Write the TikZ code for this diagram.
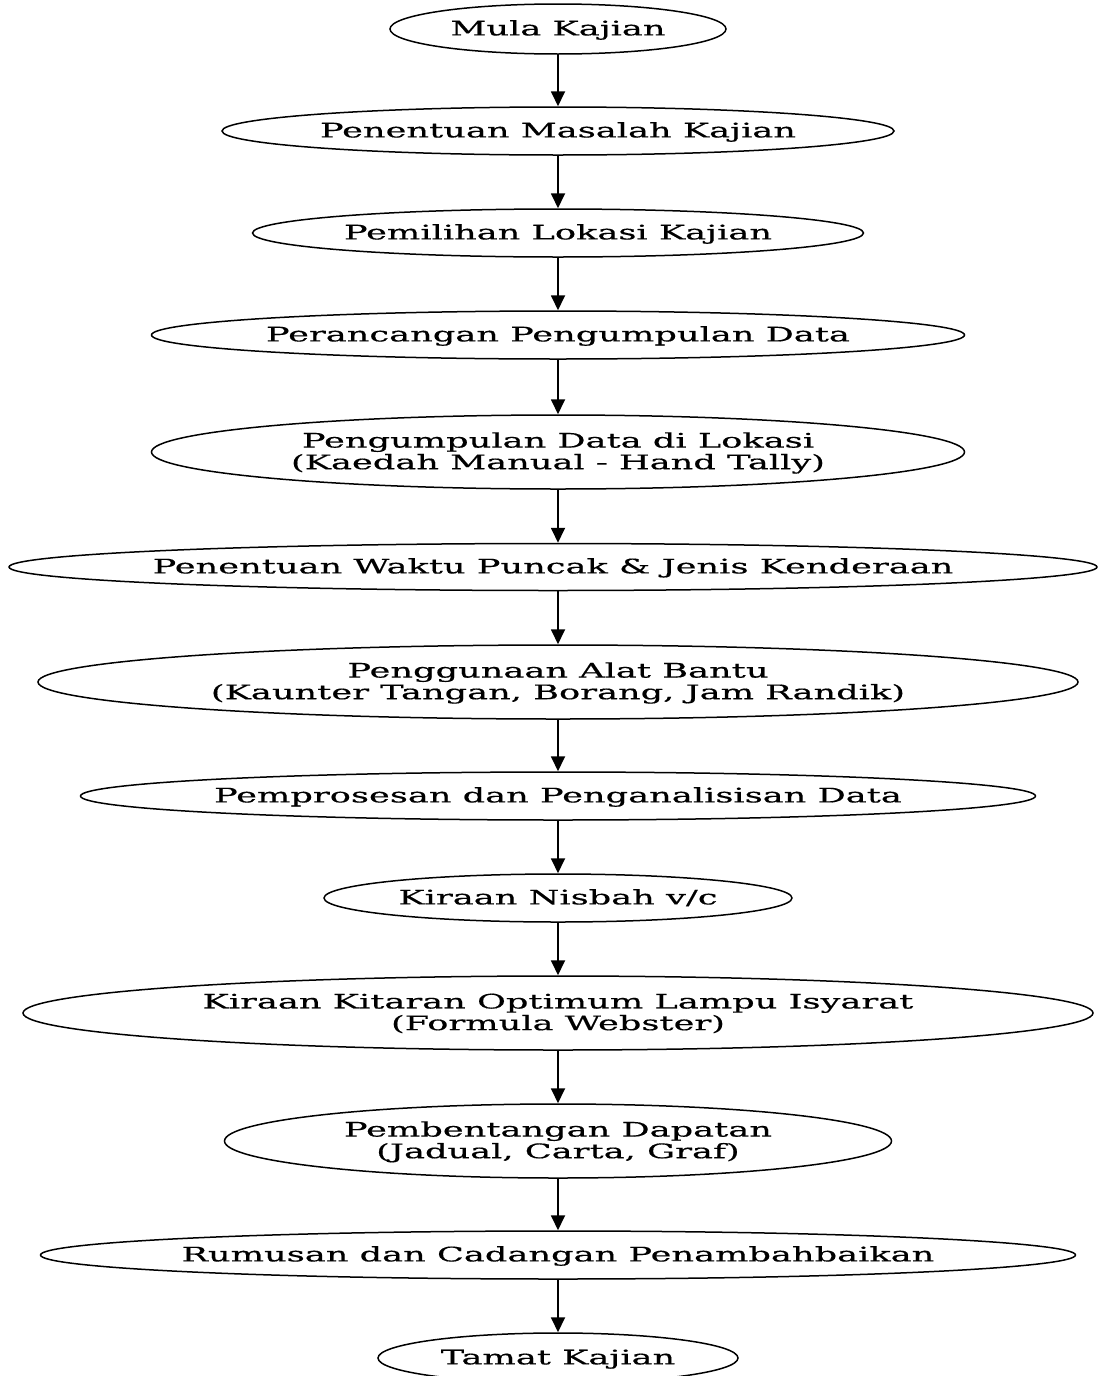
\documentclass[tikz,border=0pt]{standalone}
\usepackage{fontspec}
\newfontfamily\lblfont[FakeStretch=1.76,FakeBold=0.5]{DejaVu Serif}
\usetikzlibrary{shapes.geometric,arrows.meta}
\newcommand\lbl[1]{\raisebox{-2pt}[\height][\depth]{\makebox[0pt]{\begin{tabular}{@{}c@{}}#1\end{tabular}}}}
\begin{document}
\begin{tikzpicture}[x=1pt,y=-1pt,
  box/.style={ellipse,draw,line width=1.5pt,inner sep=0pt,
    font=\lblfont\fontsize{20}{21.5}\selectfont},
  flow/.style={line width=1.8pt,-{Triangle[length=15pt,width=14pt]}}]
\useasboundingbox (0,0) rectangle (1099,1376);
\node[box,minimum width=336,minimum height=50] (n1) at (558,29) {\lbl{Mula Kajian}};
\node[box,minimum width=672,minimum height=48] (n2) at (558,131) {\lbl{Penentuan Masalah Kajian}};
\node[box,minimum width=611,minimum height=48] (n3) at (558,233) {\lbl{Pemilihan Lokasi Kajian}};
\node[box,minimum width=813,minimum height=48] (n4) at (558,335) {\lbl{Perancangan Pengumpulan Data}};
\node[box,minimum width=813,minimum height=74] (n5) at (558,452) {\lbl{Pengumpulan Data di Lokasi\\(Kaedah Manual - Hand Tally)}};
\node[box,minimum width=1088,minimum height=47] (n6) at (553,567) {\lbl{Penentuan Waktu Puncak \& Jenis Kenderaan}};
\node[box,minimum width=1040,minimum height=74] (n7) at (558,682) {\lbl{Penggunaan Alat Bantu\\(Kaunter Tangan, Borang, Jam Randik)}};
\node[box,minimum width=955,minimum height=48] (n8) at (558,796) {\lbl{Pemprosesan dan Penganalisisan Data}};
\node[box,minimum width=468,minimum height=48] (n9) at (558,898) {\lbl{Kiraan Nisbah v/c}};
\node[box,minimum width=1070,minimum height=74] (n10) at (558,1013) {\lbl{Kiraan Kitaran Optimum Lampu Isyarat\\(Formula Webster)}};
\node[box,minimum width=667,minimum height=74] (n11) at (558,1141) {\lbl{Pembentangan Dapatan\\(Jadual, Carta, Graf)}};
\node[box,minimum width=1035,minimum height=48] (n12) at (558,1255) {\lbl{Rumusan dan Cadangan Penambahbaikan}};
\node[box,minimum width=360,minimum height=50] (n13) at (558,1358) {\lbl{Tamat Kajian}};
\draw[flow] (n1) -- (n2);
\draw[flow] (n2) -- (n3);
\draw[flow] (n3) -- (n4);
\draw[flow] (n4) -- (n5);
\draw[flow] (n5) -- (n6.north -| n5);
\draw[flow] (n6.south -| n7) -- (n7);
\draw[flow] (n7) -- (n8);
\draw[flow] (n8) -- (n9);
\draw[flow] (n9) -- (n10);
\draw[flow] (n10) -- (n11);
\draw[flow] (n11) -- (n12);
\draw[flow] (n12) -- (n13);
\end{tikzpicture}
\end{document}
